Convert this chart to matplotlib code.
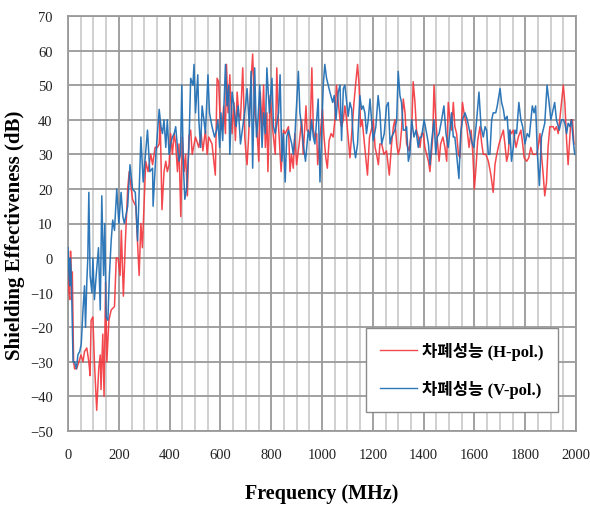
import matplotlib
matplotlib.use("Agg")
import matplotlib.pyplot as plt
from matplotlib.ticker import MultipleLocator

# ---- data ----
h_freq = [0, 4, 7, 10, 13, 17, 22, 26, 34, 43, 51, 59, 65, 74, 82, 87, 91, 98, 104, 113, 121, 127, 130, 137, 142, 148, 153, 161, 170, 183, 190, 197, 205, 210, 218, 226, 235, 241, 254, 267, 280, 287, 293, 306, 315, 326, 333, 343, 352, 359, 363, 370, 378, 385, 391, 398, 404, 411, 418, 424, 431, 437, 444, 450, 457, 463, 470, 476, 483, 489, 502, 515, 524, 531, 541, 548, 554, 567, 580, 587, 593, 600, 606, 613, 620, 624, 630, 637, 646, 653, 659, 666, 672, 679, 688, 696, 701, 705, 711, 718, 727, 735, 744, 751, 757, 764, 770, 777, 783, 787, 796, 806, 816, 822, 829, 835, 839, 848, 855, 868, 874, 880, 887, 893, 900, 910, 920, 926, 937, 941, 953, 960, 966, 972, 979, 983, 992, 1002, 1008, 1015, 1021, 1028, 1036, 1044, 1051, 1057, 1064, 1071, 1077, 1084, 1090, 1097, 1103, 1110, 1119, 1126, 1132, 1140, 1146, 1152, 1158, 1166, 1174, 1179, 1187, 1194, 1202, 1209, 1215, 1222, 1228, 1235, 1244, 1254, 1265, 1274, 1281, 1287, 1294, 1300, 1307, 1313, 1320, 1327, 1333, 1343, 1353, 1359, 1366, 1372, 1379, 1386, 1392, 1399, 1405, 1412, 1419, 1425, 1436, 1441, 1448, 1454, 1461, 1467, 1476, 1484, 1491, 1497, 1504, 1510, 1517, 1523, 1530, 1537, 1543, 1553, 1559, 1570, 1579, 1587, 1594, 1600, 1607, 1613, 1622, 1629, 1635, 1645, 1655, 1665, 1674, 1681, 1688, 1697, 1705, 1714, 1720, 1727, 1733, 1740, 1746, 1753, 1764, 1773, 1783, 1790, 1796, 1806, 1814, 1822, 1830, 1839, 1845, 1851, 1858, 1864, 1871, 1877, 1884, 1890, 1897, 1904, 1910, 1916, 1923, 1930, 1936, 1943, 1950, 1956, 1963, 1969, 1976, 1980, 1986, 1992]
h_se = [-3, -10, -12, 2, -5, -4, -30, -32, -32, -30, -28, -30, -27, -26, -30, -34, -18, -17, -30, -44, -32, -28, -38, -22, -40, -7, -30, -18, -15, -14, 0, 0, -5, 8, -11, 5, 20, 25, 17, 15, -5, 10, 3, 28, 25, 30, 27, 32, 32, 33, 40, 14, 25, 28, 25, 27, 36, 30, 36, 33, 25, 33, 12, 35, 25, 30, 18, 35, 37, 30, 35, 32, 36, 31, 37, 30, 35, 33, 24, 52, 51, 38, 37, 44, 36, 56, 42, 53, 36, 45, 34, 48, 42, 40, 55, 35, 30, 27, 35, 48, 59, 42, 37, 28, 48, 37, 50, 32, 42, 25, 47, 37, 30, 55, 38, 30, 25, 37, 36, 38, 25, 30, 26, 36, 27, 33, 40, 30, 44, 37, 36, 55, 37, 35, 36, 27, 35, 43, 35, 29, 26, 34, 36, 35, 40, 50, 45, 40, 38, 40, 44, 40, 35, 29, 38, 45, 50, 56, 50, 38, 40, 34, 28, 24, 35, 37, 40, 32, 30, 27, 33, 33, 30, 31, 24, 33, 38, 40, 33, 30, 32, 37, 46, 42, 33, 31, 37, 51, 45, 37, 35, 32, 36, 36, 32, 30, 28, 25, 35, 50, 40, 34, 28, 33, 35, 32, 28, 45, 40, 37, 45, 38, 36, 30, 29, 45, 42, 38, 32, 37, 30, 20, 27, 34, 38, 33, 30, 30, 28, 24, 19, 27, 30, 33, 35, 37, 33, 28, 30, 37, 36, 37, 32, 35, 37, 33, 29, 28, 29, 32, 30, 30, 30, 32, 36, 30, 24, 18, 22, 32, 38, 38, 38, 37, 38, 36, 40, 45, 50, 45, 34, 27, 35, 40, 40, 33]

v_freq = [0, 4, 7, 9, 13, 20, 26, 33, 39, 46, 52, 59, 65, 69, 74, 78, 82, 87, 94, 98, 104, 111, 120, 127, 133, 140, 145, 150, 157, 163, 170, 176, 183, 192, 200, 209, 216, 222, 235, 244, 254, 265, 274, 287, 296, 313, 322, 333, 335, 346, 359, 366, 372, 378, 385, 391, 398, 404, 411, 418, 424, 431, 437, 443, 448, 454, 460, 467, 476, 483, 492, 496, 502, 511, 515, 522, 528, 535, 541, 551, 557, 567, 577, 585, 590, 597, 602, 609, 620, 626, 633, 637, 646, 653, 662, 670, 679, 688, 699, 705, 714, 721, 727, 735, 742, 748, 755, 764, 770, 777, 783, 793, 803, 809, 816, 829, 835, 842, 848, 855, 861, 868, 881, 887, 893, 907, 913, 920, 926, 935, 946, 953, 959, 966, 972, 979, 985, 992, 998, 1005, 1011, 1018, 1031, 1042, 1048, 1055, 1064, 1071, 1077, 1084, 1090, 1097, 1103, 1110, 1117, 1123, 1132, 1140, 1149, 1156, 1162, 1169, 1175, 1182, 1189, 1195, 1202, 1212, 1221, 1228, 1235, 1245, 1254, 1261, 1268, 1274, 1281, 1287, 1294, 1300, 1307, 1313, 1320, 1327, 1333, 1340, 1346, 1353, 1362, 1370, 1379, 1386, 1392, 1402, 1412, 1419, 1425, 1432, 1441, 1448, 1454, 1461, 1471, 1480, 1488, 1497, 1504, 1510, 1517, 1523, 1530, 1539, 1546, 1553, 1563, 1572, 1583, 1592, 1598, 1609, 1618, 1626, 1635, 1642, 1648, 1655, 1661, 1668, 1674, 1684, 1690, 1701, 1707, 1714, 1720, 1729, 1736, 1740, 1746, 1753, 1760, 1766, 1775, 1783, 1790, 1799, 1808, 1816, 1828, 1835, 1841, 1848, 1856, 1864, 1877, 1886, 1894, 1901, 1907, 1916, 1923, 1934, 1943, 1950, 1956, 1963, 1969, 1976, 1982, 1989, 1995]
v_se = [3, -5, -8, 0, -5, -30, -30, -32, -28, -27, -25, -15, -8, -20, -7, 0, 19, -5, -10, 0, -12, -5, 3, -15, 18, -5, 10, -17, -18, -5, 5, 11, 8, 20, 10, 19, 12, 10, 15, 27, 20, 19, 5, 35, 22, 37, 25, 26, 15, 30, 43, 38, 36, 40, 32, 40, 30, 33, 35, 36, 38, 32, 28, 30, 50, 27, 17, 20, 32, 52, 50, 56, 42, 53, 40, 32, 44, 40, 36, 53, 42, 38, 35, 37, 40, 32, 42, 34, 56, 44, 50, 30, 48, 44, 38, 44, 33, 38, 44, 49, 38, 54, 26, 55, 35, 40, 50, 32, 42, 36, 55, 42, 52, 38, 36, 42, 53, 28, 36, 22, 35, 37, 33, 30, 35, 54, 42, 38, 33, 28, 37, 34, 40, 35, 33, 40, 46, 22, 35, 50, 56, 52, 48, 45, 47, 40, 48, 50, 34, 49, 50, 45, 41, 45, 43, 34, 29, 33, 47, 43, 44, 42, 36, 40, 46, 40, 34, 38, 47, 42, 33, 36, 44, 45, 33, 35, 36, 37, 40, 54, 47, 45, 37, 37, 38, 28, 30, 40, 35, 37, 32, 35, 35, 40, 36, 33, 27, 34, 40, 30, 35, 36, 40, 44, 36, 32, 37, 42, 35, 35, 30, 23, 36, 40, 42, 40, 36, 33, 32, 40, 48, 38, 35, 38, 37, 30, 30, 40, 42, 42, 44, 49, 45, 43, 40, 41, 33, 37, 28, 32, 37, 36, 45, 40, 38, 33, 36, 35, 44, 42, 44, 30, 21, 35, 39, 50, 45, 40, 42, 45, 40, 37, 40, 40, 39, 36, 39, 38, 40, 34, 30]

x_ticks = [0, 200, 400, 600, 800, 1000, 1200, 1400, 1600, 1800, 2000]
y_ticks = [-50, -40, -30, -20, -10, 0, 10, 20, 30, 40, 50, 60, 70]
label_h = "차폐성능 (H-pol.)"
label_v = "차폐성능 (V-pol.)"

# ---- drawing ----
serif_list = ["Liberation Serif", "Noto Sans CJK KR", "DejaVu Sans"]
plt.rcParams["font.family"] = serif_list

fig = plt.figure(figsize=(5.9, 5.1), dpi=100)
ax = fig.add_axes([68 / 590, 1 - 432 / 510, 508 / 590, 415 / 510])

ax.plot(h_freq, h_se, color="#F2353B", lw=1.1, alpha=0.9, label=label_h, zorder=3)
ax.plot(v_freq, v_se, color="#2370B5", lw=1.1, alpha=0.95, label=label_v, zorder=4)

ax.set_xlim(0, 2000)
ax.set_ylim(-50, 70)
ax.set_xticks(x_ticks)
ax.set_yticks(y_ticks)
ax.xaxis.set_minor_locator(MultipleLocator(50))
ax.grid(which="minor", axis="x", color="#CDCDCD", lw=1.3, zorder=0)
ax.grid(which="major", axis="both", color="#9A9A9A", lw=1.3, zorder=1)
ax.tick_params(which="both", length=0)
ax.tick_params(axis="x", pad=12, labelsize=10.5, colors="#222222")
ax.tick_params(axis="y", pad=11, labelsize=10.5, colors="#222222")
for s in ax.spines.values():
    s.set_color("#9A9A9A")
    s.set_linewidth(1.3)

ax.set_xlabel("Frequency (MHz)", fontsize=14.5, fontweight="bold", labelpad=16)
ax.set_ylabel("Shielding Effectiveness (dB)", fontsize=15, fontweight="bold")
ax.yaxis.set_label_coords(-0.085, 0.475)

leg = ax.legend(loc="lower left", bbox_to_anchor=(0.587, 0.046), borderaxespad=0,
                frameon=True, fancybox=False, edgecolor="#8A8A8A", framealpha=1,
                handlelength=2.2, handletextpad=0.3, borderpad=0.85, labelspacing=1.2,
                prop={"family": serif_list, "size": 12, "weight": "bold"})
leg.get_frame().set_linewidth(1.0)
for line in leg.get_lines():
    line.set_linewidth(1.0)

fig.savefig("out.png", dpi=100, facecolor="white")
